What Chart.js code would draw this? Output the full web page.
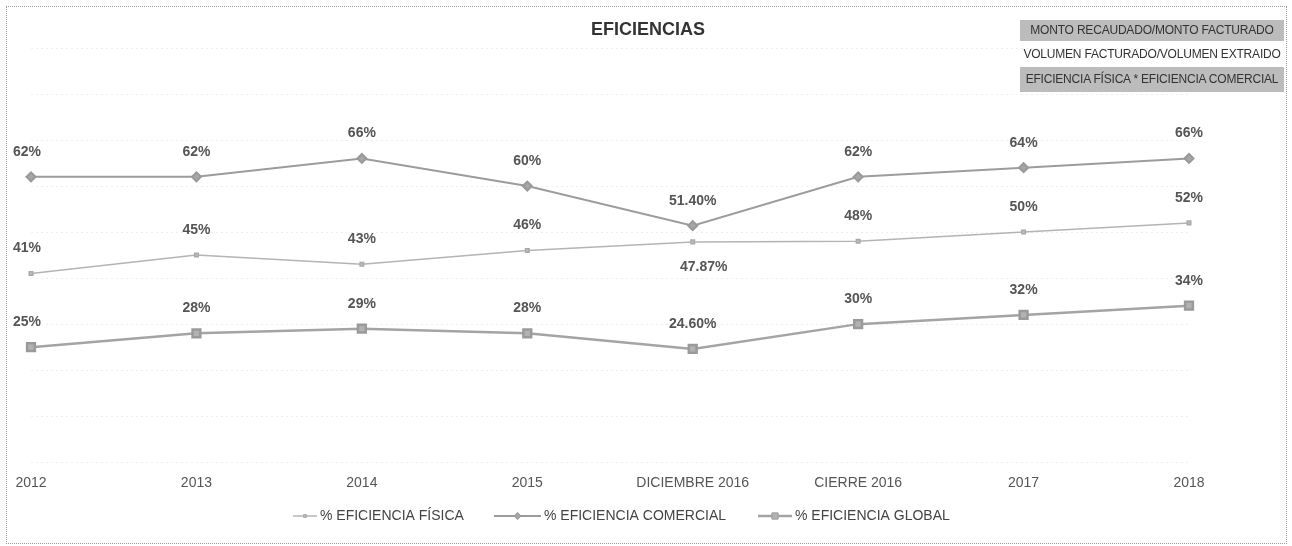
<!DOCTYPE html>
<html>
<head>
<meta charset="utf-8">
<script src="https://cdn.jsdelivr.net/npm/chart.js@4.4.1/dist/chart.umd.min.js"></script>
<style>
  html, body { margin: 0; padding: 0; background: #fff; }
  #wrap { position: relative; width: 1292px; height: 546px; }
  #frame { position: absolute; left: 6px; top: 6px; width: 1279px; height: 536px;
           border: 1px dotted #9a9a9a; pointer-events: none; }
  .note { position: absolute; left: 1020px; width: 264px; font: 12px "Liberation Sans", Arial, sans-serif;
          color: #333; letter-spacing: -0.2px; white-space: nowrap; text-align: center; }
  .note.grey { background: #bcbcbc; }
</style>
</head>
<body>
<div id="wrap">
  <canvas id="chart" width="1292" height="546"></canvas>
  <div id="frame"></div>
  <div class="note grey" style="top:20px;height:21px;line-height:21px;">MONTO RECAUDADO/MONTO FACTURADO</div>
  <div class="note" style="top:44px;height:21px;line-height:21px;">VOLUMEN FACTURADO/VOLUMEN EXTRAIDO</div>
  <div class="note grey" style="top:67px;height:25px;line-height:25px;">EFICIENCIA FÍSICA * EFICIENCIA COMERCIAL</div>
</div>
<script>
const categories = ['2012', '2013', '2014', '2015', 'DICIEMBRE 2016', 'CIERRE 2016', '2017', '2018'];
const fisica    = [41, 45, 43, 46, 47.87, 48, 50, 52];
const comercial = [62, 62, 66, 60, 51.40, 62, 64, 66];
const global    = [25, 28, 29, 28, 24.60, 30, 32, 34];
const yTicks    = [0, 10, 20, 30, 40, 50, 60, 70, 80, 90];

const FONT = '"Liberation Sans", Arial, sans-serif';

function fmt(v) {
    return Number.isInteger(v) ? v + '%' : v.toFixed(2) + '%';
}

// title centred on the whole canvas, not the plot area
const pageTitle = {
    id: 'pageTitle',
    afterDraw(chart) {
        const ctx = chart.ctx;
        ctx.save();
        ctx.font = 'bold 18px ' + FONT;
        ctx.fillStyle = '#333';
        ctx.textAlign = 'center';
        ctx.textBaseline = 'middle';
        ctx.fillText('EFICIENCIAS', chart.width / 2 + 2, 30);
        ctx.restore();
    }
};

// value labels above (or below) each point
const valueLabels = {
    id: 'valueLabels',
    afterDatasetsDraw(chart) {
        const ctx = chart.ctx;
        ctx.save();
        ctx.font = 'bold 14px ' + FONT;
        ctx.fillStyle = '#555';
        ctx.textAlign = 'center';
        ctx.textBaseline = 'middle';
        chart.data.datasets.forEach((ds, i) => {
            chart.getDatasetMeta(i).data.forEach((pt, j) => {
                const below = ds.labelBelow && ds.labelBelow.includes(j);
                const dx = below ? 11 : (j === 0 ? -4 : 0);
                ctx.fillText(fmt(ds.data[j]), pt.x + dx, pt.y + (below ? 25 : -25));
            });
        });
        ctx.restore();
    }
};

// legend drawn as line + marker samples
const lineLegend = {
    id: 'lineLegend',
    afterDraw(chart) {
        const ctx = chart.ctx;
        const items = [
            { ds: 0, x: 293, w: 24 },
            { ds: 1, x: 494, w: 47 },
            { ds: 2, x: 758, w: 34 },
        ];
        const y = 516;
        ctx.save();
        items.forEach(it => {
            const ds = chart.data.datasets[it.ds];
            ctx.strokeStyle = ds.borderColor;
            ctx.lineWidth = ds.borderWidth;
            ctx.beginPath();
            ctx.moveTo(it.x, y);
            ctx.lineTo(it.x + it.w, y);
            ctx.stroke();
            ctx.fillStyle = ds.backgroundColor;
            ctx.strokeStyle = ds.pointBorderColor;
            ctx.lineWidth = 1;
            Chart.helpers.drawPoint(ctx, {
                pointStyle: ds.pointStyle,
                radius: ds.pointRadius * 0.8,
                borderWidth: 1,
                rotation: 0
            }, it.x + it.w / 2, y);
            ctx.font = '14px ' + FONT;
            ctx.fillStyle = '#444';
            ctx.textBaseline = 'middle';
            ctx.fillText(ds.label, it.x + it.w + 3, y);
        });
        ctx.restore();
    }
};

new Chart(document.getElementById('chart'), {
    type: 'line',
    data: {
        labels: categories,
        datasets: [
            {
                label: '% EFICIENCIA FÍSICA',
                data: fisica,
                borderColor: '#b4b4b4',
                backgroundColor: '#bdbdbd',
                borderWidth: 1.5,
                pointStyle: 'rect',
                pointRadius: 2.5,
                pointBorderColor: '#aaa',
                labelBelow: [4],
            },
            {
                label: '% EFICIENCIA COMERCIAL',
                data: comercial,
                borderColor: '#9c9c9c',
                backgroundColor: '#a6a6a6',
                borderWidth: 2,
                pointStyle: 'rectRot',
                pointRadius: 4.5,
                pointBorderColor: '#999',
            },
            {
                label: '% EFICIENCIA GLOBAL',
                data: global,
                borderColor: '#a4a4a4',
                backgroundColor: '#b2b2b2',
                borderWidth: 2.5,
                pointStyle: 'rect',
                pointRadius: 5.5,
                pointBorderColor: '#9a9a9a',
            },
        ],
    },
    options: {
        responsive: false,
        animation: false,
        layout: { padding: { left: 31, right: 103, top: 48, bottom: 41 } },
        plugins: {
            legend: { display: false },
            tooltip: { enabled: false },
            title: { display: false },
        },
        scales: {
            x: {
                offset: false,
                grid: { display: false, drawTicks: false },
                border: { display: false },
                ticks: { color: '#555', padding: 13, font: { family: FONT, size: 14 }, maxRotation: 0, autoSkip: false },
            },
            y: {
                min: yTicks[0],
                max: yTicks[yTicks.length - 1],
                afterBuildTicks: axis => { axis.ticks = yTicks.map(v => ({ value: v })); },
                grid: { color: '#efefef', drawTicks: false, lineWidth: 1 },
                border: { display: false, dash: [2, 3] },
                ticks: { display: false },
            },
        },
    },
    plugins: [pageTitle, valueLabels, lineLegend],
});
</script>
</body>
</html>
